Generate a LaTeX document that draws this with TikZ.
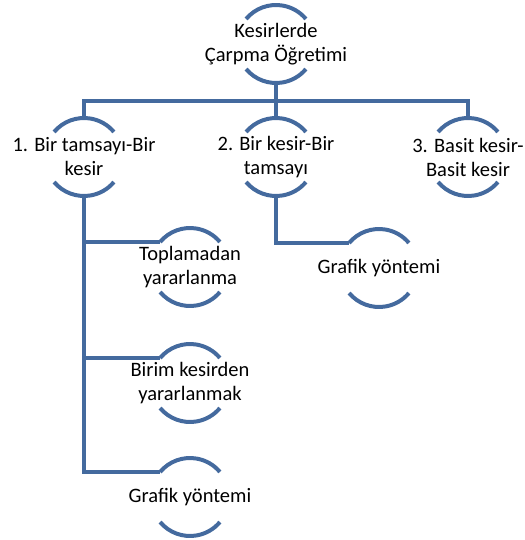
\documentclass[tikz,border=0pt]{standalone}
\usepackage{fontspec}
\setmainfont{Carlito}
\definecolor{hatmavi}{RGB}{68,106,158}
\begin{document}
\begin{tikzpicture}[x=1pt, y=1pt, line join=miter,
	yazi/.style={align=center, inner sep=0pt, font=\fontsize{20.5}{24}\selectfont},
	yay/.style={hatmavi, line width=4pt},
	bag/.style={hatmavi, line width=4pt}]
	\def\r{39}
	\useasboundingbox (0,0) rectangle (524,-540);
	%\draw[gray!40] (0,0) grid[step=20] (524,-540);
	\node[yazi] (kok) at (276,-44) {Kesirlerde\\Çarpma Öğretimi};
	\node[yazi] (bir) at (84,-157) {1. Bir tamsayı-Bir\\kesir};
	\node[yazi] (iki) at (276,-157) {2. Bir kesir-Bir\\tamsayı};
	\node[yazi] (uc) at (468,-157) {3. Basit kesir-\\Basit kesir};
	\node[yazi] (top) at (190,-267) {Toplamadan\\yararlanma};
	\node[yazi] (birim) at (190,-383) {Birim kesirden\\yararlanmak};
	\node[yazi] (grafA) at (190,-497) {Grafik yöntemi};
	\node[yazi] (grafB) at (379,-268) {Grafik yöntemi};
	% yaylar
	\foreach \n in {kok,bir,iki,uc,top,birim,grafA,grafB}{
		\draw[yay] ([shift={(140:\r)}]\n.center) arc (140:40:\r);
		\draw[yay] ([shift={(220:\r)}]\n.center) arc (220:320:\r);
		\path (\n.center) ++(0,\r) coordinate (\n-ust);
		\path (\n.center) ++(0,-\r) coordinate (\n-alt);
		\path (\n.center) ++(140:\r) coordinate (\n-sol);
	}
	% baglar
	\draw[bag] (kok-alt) -- ++(0,-18) coordinate (catal);
	\draw[bag] (bir-ust) |- (catal) -| (uc-ust);
	\draw[bag] (catal) -- (iki-ust);
	\draw[bag] (bir-alt) |- (grafA-sol);
	\draw[bag] (bir-alt) |- (top-sol);
	\draw[bag] (bir-alt) |- (birim-sol);
	\draw[bag] (iki-alt) |- (grafB-sol);
\end{tikzpicture}
\end{document}
